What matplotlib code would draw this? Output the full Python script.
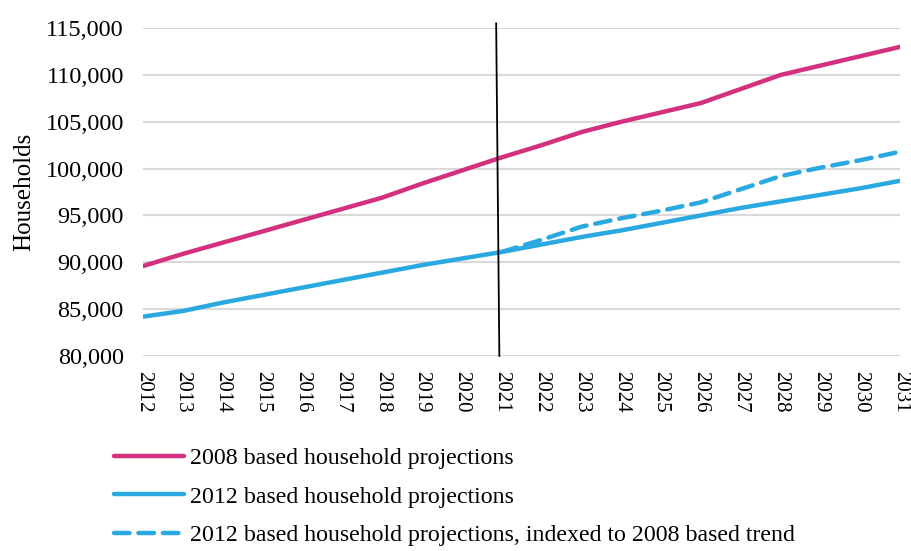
import numpy as np
import matplotlib.pyplot as plt

years = list(range(2012, 2032))
proj_2008 = [89600, 90900, 92100, 93300, 94500, 95700, 96900, 98400, 99800, 101200,
             102500, 103900, 105000, 106000, 107000, 108500, 110000, 111000, 112000, 113000]
proj_2012 = [84200, 84800, 85700, 86500, 87300, 88100, 88900, 89700, 90400, 91100,
             91900, 92700, 93400, 94200, 95000, 95800, 96500, 97200, 97900, 98700]
idx_years = list(range(2021, 2032))
proj_2012_idx = [91100, 92400, 93800, 94700, 95500, 96400, 97800, 99200, 100100, 100900, 101800]

labels = ["2008 based household projections",
          "2012 based household projections",
          "2012 based household projections, indexed to 2008 based trend"]

plt.rcParams['font.family'] = ['Liberation Serif', 'DejaVu Serif']

fig = plt.figure(figsize=(9.12, 5.51), dpi=100)
ax = fig.add_axes([0.157, 0.354, 0.830, 0.595])

pink = '#D3307E'
blue = '#29A9E0'
l1, = ax.plot(years, proj_2008, color=pink, lw=3.2, solid_capstyle='round')
l2, = ax.plot(years, proj_2012, color=blue, lw=3.2, solid_capstyle='round')
l3, = ax.plot(idx_years, proj_2012_idx, color=blue, lw=3.2, dashes=(3.5, 2), dash_capstyle='round')

# marker line for 2021
ax.plot([2020.86, 2020.94], [115500, 80000], color='black', lw=1.3, clip_on=False, zorder=5)

ax.set_xlim(2012, 2031)
ax.set_ylim(80000, 115000)
ax.set_yticks(np.arange(80000, 115001, 5000))
ax.set_yticklabels([f"{v:,}" for v in range(80000, 115001, 5000)], fontsize=17.5)
ax.set_xticks(years)
ax.set_xticklabels([str(y) for y in years], rotation=270, fontsize=15)
ax.tick_params(axis='y', length=0, pad=14)
ax.tick_params(axis='x', length=0, pad=11)
ax.grid(axis='y', color='#d9d9d9', lw=1.5)
ax.set_axisbelow(True)
for s in ax.spines.values():
    s.set_visible(False)
ax.set_ylabel("Households", fontsize=18)
ax.yaxis.set_label_coords(-0.142, 0.5)

fig.legend([l1, l2, l3], labels, loc='upper left', bbox_to_anchor=(0.115, 0.205),
           frameon=False, fontsize=17.2, handlelength=2.9, handletextpad=0.25,
           labelspacing=0.7, borderaxespad=0)

fig.savefig("out.png", dpi=100)
